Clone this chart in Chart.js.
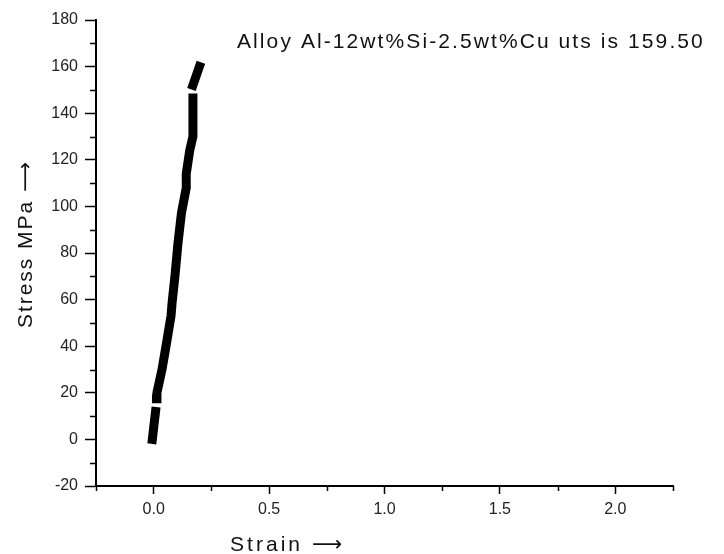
<!DOCTYPE html>
<html>
<head>
<meta charset="utf-8">
<script src="https://cdn.jsdelivr.net/npm/chart.js@4.4.1/dist/chart.umd.min.js"></script>
<style>
  html, body { margin: 0; padding: 0; background: #fff; }
  #wrap { width: 724px; height: 554px; }
</style>
</head>
<body>
<div id="wrap"><canvas id="myChart" width="724" height="554"></canvas></div>
<script>
// data (null = gap in the trace)
var strain = [-0.006, 0.008, null, 0.012, 0.014, 0.036, 0.055, 0.075, 0.080, 0.092, 0.105, 0.120, 0.141, 0.141, 0.156, 0.170, 0.170, null, 0.170, 0.198];
var stress = [0, 12, null, 17.5, 20, 30, 41, 53, 59, 70, 84, 97, 108, 114, 124, 130, 146.5, null, 152, 160];

var xMajor = [0, 0.5, 1.0, 1.5, 2.0];
var xMinor = [-0.25, 0.25, 0.75, 1.25, 1.75, 2.25];
var yMajor = [-20, 0, 20, 40, 60, 80, 100, 120, 140, 160, 180];
var yMinor = [-10, 10, 30, 50, 70, 90, 110, 130, 150, 170];

var titleText = 'Alloy Al-12wt%Si-2.5wt%Cu uts is 159.50';
var fontFam = '"Liberation Sans", Arial, "DejaVu Sans", sans-serif';

var points = strain.map(function (s, i) {
  return s === null ? { x: null, y: null } : { x: s, y: stress[i] };
});

// texto com espaçamento ajustado a uma largura
function spacedText(ctx, text, x, y, width) {
  var n = text.length;
  ctx.letterSpacing = '0px';
  var w = ctx.measureText(text).width;
  var sp = (width - w) / n;
  ctx.letterSpacing = sp.toFixed(2) + 'px';
  ctx.fillText(text, x, y);
  ctx.letterSpacing = '0px';
}

var extras = {
  id: 'extras',
  afterDraw: function (chart) {
    var ctx = chart.ctx;
    var a = chart.chartArea;
    var sx = chart.scales.x, sy = chart.scales.y;
    ctx.save();
    // minor ticks
    ctx.strokeStyle = '#000';
    ctx.lineWidth = 1.5;
    ctx.beginPath();
    xMinor.forEach(function (v) {
      var px = Math.round(sx.getPixelForValue(v)) + 0.5;
      ctx.moveTo(px, a.bottom);
      ctx.lineTo(px, a.bottom + 5);
    });
    yMinor.forEach(function (v) {
      var py = Math.round(sy.getPixelForValue(v)) + 0.5;
      ctx.moveTo(a.left, py);
      ctx.lineTo(a.left - 6, py);
    });
    ctx.stroke();

    // annotation
    ctx.fillStyle = '#111';
    ctx.textBaseline = 'alphabetic';
    ctx.textAlign = 'left';
    ctx.font = '21px ' + fontFam;
    spacedText(ctx, titleText, 237, 48, 468);

    // x title
    spacedText(ctx, 'Strain \u27F6', 230, 551, 115);

    // y title
    ctx.translate(32, 328);
    ctx.rotate(-Math.PI / 2);
    spacedText(ctx, 'Stress MPa \u27F6', 0, 0, 168);
    ctx.restore();
  }
};

var ctxChart = document.getElementById('myChart').getContext('2d');

var myChart = new Chart(ctxChart, {
  type: 'scatter',
  data: {
    datasets: [{
      label: 'Stress',
      data: points,
      showLine: true,
      spanGaps: false,
      borderColor: '#000',
      backgroundColor: '#000',
      borderWidth: 9,
      borderCapStyle: 'square',
      borderJoinStyle: 'miter',
      pointRadius: 0,
      tension: 0
    }]
  },
  options: {
    responsive: false,
    animation: false,
    layout: {
      padding: { left: 0, right: 51, top: 20, bottom: 0 }
    },
    plugins: {
      legend: { display: false },
      tooltip: { enabled: false }
    },
    scales: {
      x: {
        type: 'linear',
        min: -0.25,
        max: 2.25,
        afterBuildTicks: function (scale) {
          scale.ticks = xMajor.map(function (v) { return { value: v }; });
        },
        afterFit: function (scale) { scale.height = 68; },
        ticks: {
          autoSkip: false,
          maxRotation: 0,
          padding: 6,
          color: '#222',
          font: { size: 16, family: fontFam },
          callback: function (v) { return v.toFixed(1); }
        },
        grid: {
          drawOnChartArea: false,
          drawTicks: true,
          tickLength: 8,
          tickColor: '#000',
          tickWidth: 1.5
        },
        border: { display: true, color: '#000', width: 2 }
      },
      y: {
        type: 'linear',
        min: -20,
        max: 180,
        afterBuildTicks: function (scale) {
          scale.ticks = yMajor.map(function (v) { return { value: v }; });
        },
        afterFit: function (scale) { scale.width = 96; },
        ticks: {
          autoSkip: false,
          padding: 7,
          color: '#222',
          font: { size: 16, family: fontFam }
        },
        grid: {
          drawOnChartArea: false,
          drawTicks: true,
          tickLength: 11,
          tickColor: '#000',
          tickWidth: 1.5
        },
        border: { display: true, color: '#000', width: 2 }
      }
    }
  },
  plugins: [extras]
});
</script>
</body>
</html>
